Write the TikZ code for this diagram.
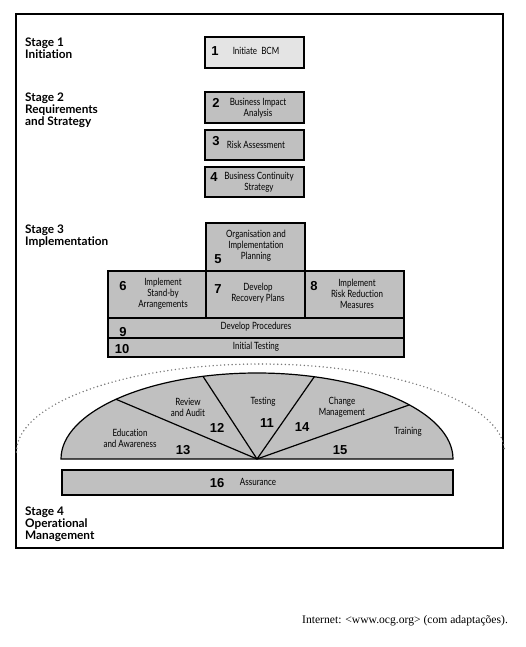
\documentclass[tikz,border=0pt]{standalone}
\usepackage{fontspec}
\setmainfont{Liberation Serif}
\newfontfamily\stagefont[Ligatures=NoCommon]{Lato}
\newfontfamily\boxfont[FakeStretch=0.8, Ligatures=NoCommon]{Lato}
\newfontfamily\numfont{Liberation Sans}
\usetikzlibrary{positioning}
\definecolor{bcmgray}{RGB}{192,192,192}
\definecolor{bcmlight}{RGB}{228,228,228}
\definecolor{bcmdot}{RGB}{120,120,120}

\begin{document}
\begin{tikzpicture}[x=1pt, y=-1pt,
  stage/.style={anchor=north west, align=left, inner sep=0pt, font=\stagefont\bfseries\fontsize{11.8}{12}\selectfont},
  blk/.style={rectangle, draw=black, line width=1.2pt, fill=bcmgray, inner sep=0pt},
  txt/.style={align=center, inner sep=0pt, font=\boxfont\fontsize{10}{11}\selectfont},
  num/.style={inner sep=0pt, font=\numfont\bfseries\fontsize{13}{13}\selectfont},
  cycle/.style={draw=black, line width=1.2pt}
]
\useasboundingbox (0,0) rectangle (525,647);
\draw[line width=1.8pt] (16,14) rectangle (503,548);

% stage headings
\node[stage] (s1) at (25,38) {Stage 1\\Initiation};
\node[stage] (s2) at (25,93) {Stage 2\\Requirements\\and Strategy};
\node[stage] (s3) at (25,225) {Stage 3\\Implementation};
\node[stage] (s4) at (25,507) {Stage 4\\Operational\\Management};

% stages 1 and 2
\node[blk, fill=bcmlight, minimum width=99, minimum height=31] (b1) at (254.5,52.5) {};
\node[blk, minimum width=99, minimum height=31] (b2) at (254.5,107.5) {};
\node[blk, minimum width=99, minimum height=30] (b3) at (254.5,145) {};
\node[blk, minimum width=99, minimum height=30] (b4) at (254.5,182) {};
\node[txt] (t1) at (256,51) {Initiate\ \ BCM};
\node[txt] (t2) at (258,108) {Business Impact\\Analysis};
\node[txt] (t3) at (256,145) {Risk Assessment};
\node[txt] (t4) at (259,182) {Business Continuity\\Strategy};
\node[num] (n1) at (215,51) {1};
\node[num] (n2) at (216,103) {2};
\node[num] (n3) at (216,141) {3};
\node[num] (n4) at (214,177) {4};

% stage 3
\node[blk, minimum width=99, minimum height=48] (b5) at (255.5,247) {};
\node[blk, minimum width=98, minimum height=47] (b6) at (157,294.5) {};
\node[blk, minimum width=99, minimum height=47] (b7) at (255.5,294.5) {};
\node[blk, minimum width=99, minimum height=47] (b8) at (354.5,294.5) {};
\node[blk, minimum width=296, minimum height=20] (b9) at (256,328) {};
\node[blk, minimum width=296, minimum height=19] (b10) at (256,347.5) {};
\node[txt] (t5) at (256,246) {Organisation and\\Implementation\\Planning};
\node[txt] (t6) at (163,294) {Implement\\Stand-by\\Arrangements};
\node[txt] (t7) at (258,293) {Develop\\Recovery Plans};
\node[txt] (t8) at (357,294) {Implement\\Risk Reduction\\Measures};
\node[txt] (t9) at (256,327) {Develop Procedures};
\node[txt] (t10) at (256,347) {Initial Testing};
\node[num] (n5) at (218,259) {5};
\node[num] (n6) at (123,286) {6};
\node[num] (n7) at (218,289) {7};
\node[num] (n8) at (314,286) {8};
\node[num] (n9) at (123,332) {9};
\node[num] (n10) at (122,349) {10};

% stage 4
\draw[bcmdot, line width=1.6pt, line cap=round, dash pattern=on 0pt off 3.8pt]
  (16.5,452) arc[start angle=180, end angle=360, x radius=244, y radius=88];
\coordinate (hub) at (257,459);
\filldraw[cycle, fill=bcmgray] (61,459) arc[start angle=180, end angle=360, x radius=196, y radius=86] -- cycle;
\foreach \a in {136,106,73,39}
  \draw[cycle] (hub) -- ++(-\a:196 and 86);
\node[blk, minimum width=391, minimum height=25] (b16) at (257.5,482.5) {};
\node[txt] (t12) at (188,407) {Review\\and Audit};
\node[txt] (t11) at (263,402) {Testing};
\node[txt] (t14) at (342,407) {Change\\Management};
\node[txt] (t13) at (130,438) {Education\\and Awareness};
\node[txt] (t15) at (408,432) {Training};
\node[txt] (t16) at (258,482) {Assurance};
\node[num] (n12) at (217,428) {12};
\node[num] (n11) at (267,423) {11};
\node[num] (n14) at (302,427) {14};
\node[num] (n13) at (183,450) {13};
\node[num] (n15) at (340,450) {15};
\node[num] (n16) at (217,483) {16};

\node[anchor=west, inner sep=0pt, font=\fontsize{11.6}{13}\selectfont] (src) at (302,621)
  {Internet: <www.ocg.org> (com adaptações).};
\end{tikzpicture}
\end{document}
